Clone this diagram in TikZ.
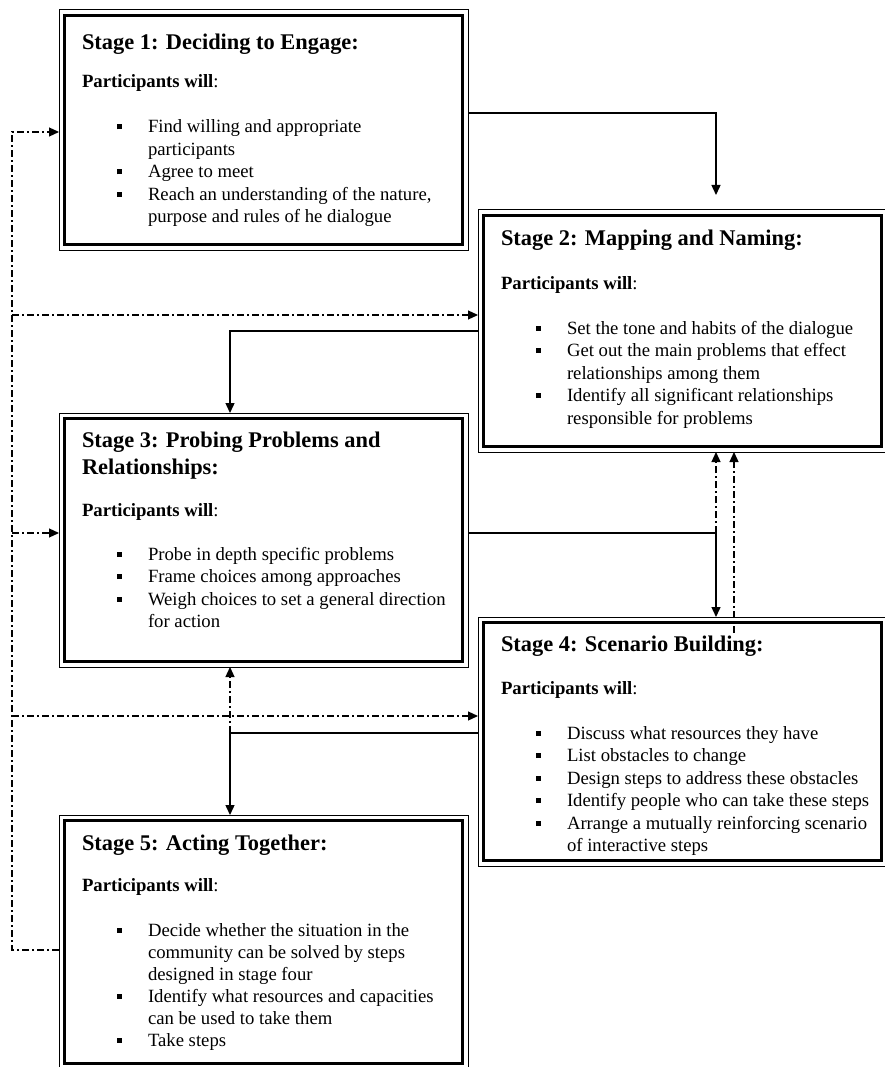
\documentclass[tikz,border=0pt]{standalone}
\usepackage{fontspec}
\setmainfont{Liberation Serif}
\usetikzlibrary{arrows.meta,calc}

\newcommand\bodyfnt{\fontsize{18.7}{22.5}\selectfont}
\newcommand\titlefnt{\fontsize{22.4}{27}\selectfont\bfseries}
\newcommand\TLn[2]{\hbox{\vrule height #1 depth 6pt width 0pt\hspace{23pt}\titlefnt #2}}
\newcommand\PLn[1]{\hbox{\vrule height #1 depth 6pt width 0pt\hspace{23pt}\bodyfnt\textbf{Participants will}:}}
\newcommand\BLn[2]{\hbox{\vrule height #1 depth 6pt width 0pt\hspace{58pt}\raisebox{3.5pt}{\rule{5pt}{5pt}}\hspace{26pt}\bodyfnt #2}}
\newcommand\CLn[2]{\hbox{\vrule height #1 depth 6pt width 0pt\hspace{89pt}\bodyfnt #2}}
\newcommand\stagebody[3]{\vbox to #2{\offinterlineskip\hrule height 0pt depth 0pt width #1\relax #3\vss}}

\begin{document}
\begin{tikzpicture}[x=1pt,y=-1pt,
  stagebox/.style={draw, line width=1pt, inner sep=0pt, outer sep=0pt, anchor=north west,
    path picture={\draw[line width=2.6pt] ([shift={(5.5pt,-5.5pt)}]path picture bounding box.north west) rectangle ([shift={(-5.5pt,5.5pt)}]path picture bounding box.south east);}},
  conn/.style={line width=1.4pt, -{Triangle[length=10pt,width=9pt]}},
  dd/.style={line width=1.2pt, dash pattern=on 7pt off 3pt on 2pt off 3pt},
  ddarrow/.style={dd, -{Triangle[length=10pt,width=9pt]}}]
\useasboundingbox (0,0) rectangle (885,1067);

\node[stagebox] (s1) at (59,10) {\stagebody{409pt}{240pt}{%
  \TLn{40pt}{Stage 1: Deciding to Engage:}
  \PLn{32pt}
  \BLn{39pt}{Find willing and appropriate}
  \CLn{16.5pt}{participants}
  \BLn{16.5pt}{Agree to meet}
  \BLn{16.5pt}{Reach an understanding of the nature,}
  \CLn{16.5pt}{purpose and rules of he dialogue}}};

\node[stagebox] (s2) at (478,210) {\stagebody{409pt}{242pt}{%
  \TLn{35pt}{Stage 2: Mapping and Naming:}
  \PLn{38pt}
  \BLn{39pt}{Set the tone and habits of the dialogue}
  \BLn{16.5pt}{Get out the main problems that effect}
  \CLn{16.5pt}{relationships among them}
  \BLn{16.5pt}{Identify all significant relationships}
  \CLn{16.5pt}{responsible for problems}}};

\node[stagebox] (s3) at (59,413) {\stagebody{409pt}{254pt}{%
  \TLn{34pt}{Stage 3: Probing Problems and}
  \TLn{21pt}{Relationships:}
  \PLn{36pt}
  \BLn{38pt}{Probe in depth specific problems}
  \BLn{16.5pt}{Frame choices among approaches}
  \BLn{16.5pt}{Weigh choices to set a general direction}
  \CLn{16.5pt}{for action}}};

\node[stagebox] (s4) at (478,617) {\stagebody{409pt}{249pt}{%
  \TLn{34pt}{Stage 4: Scenario Building:}
  \PLn{37pt}
  \BLn{39pt}{Discuss what resources they have}
  \BLn{16.5pt}{List obstacles to change}
  \BLn{16.5pt}{Design steps to address these obstacles}
  \BLn{16.5pt}{Identify people who can take these steps}
  \BLn{16.5pt}{Arrange a mutually reinforcing scenario}
  \CLn{16.5pt}{of interactive steps}}};

\node[stagebox] (s5) at (59,815) {\stagebody{409pt}{254pt}{%
  \TLn{35pt}{Stage 5: Acting Together:}
  \PLn{35pt}
  \BLn{39pt}{Decide whether the situation in the}
  \CLn{16pt}{community can be solved by steps}
  \CLn{16pt}{designed in stage four}
  \BLn{16pt}{Identify what resources and capacities}
  \CLn{16pt}{can be used to take them}
  \BLn{16pt}{Take steps}}};

% solid connectors
\coordinate (a2) at (716,195);
\draw[conn] (s1.east |- 0,113) -| (a2);
\draw[conn] (s2.west |- 0,331) -| (s3.north -| 230,0);
\draw[conn] (s3.east |- 0,533) -| (s4.north -| 716,0);
\draw[conn] (s4.west |- 0,733) -| (s5.north -| 230,0);

% dash-dot feedback lines
\coordinate (lt) at (12,132);
\coordinate (j2) at (12,315);
\coordinate (j3) at (12,533);
\coordinate (j4) at (12,716);
\draw[ddarrow] (s5.west |- 0,950) -| (lt) -- (s1.west |- lt);
\draw[ddarrow] (j2) -- (s2.west |- j2);
\draw[ddarrow] (j3) -- (s3.west |- j3);
\draw[ddarrow] (j4) -- (s4.west |- j4);

\coordinate (c3) at (716,533);
\coordinate (g4) at (734,633);
\coordinate (h5) at (230,733);
\draw[ddarrow] (c3) -- (s2.south -| c3);
\draw[ddarrow] (g4) -- (s2.south -| g4);
\draw[ddarrow] (h5) -- (s3.south -| h5);
\end{tikzpicture}
\end{document}
